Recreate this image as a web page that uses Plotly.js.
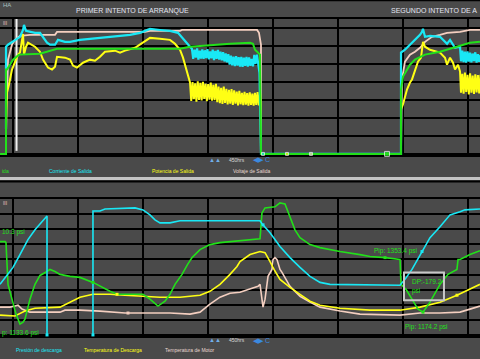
<!DOCTYPE html>
<html><head><meta charset="utf-8">
<script src="https://cdn.plot.ly/plotly-3.0.1.min.js"></script>
<style>html,body{margin:0;padding:0;background:#4a4a4a;}#chart{width:480px;height:359px;}</style>
</head><body><div id="chart"></div>
<script>
// ---------- TOP PANEL (x: hours, y: % of scale) ----------
const topVoltT = [-0.085,-0.069,-0.008,0.038,0.115,0.269,0.654,0.685,2.038,2.115,2.577,2.608,3.762,3.792,3.823,3.823,5.977,5.977,5.992,6.038,6.115,6.192,6.269,6.346,6.454,6.577,6.685,6.885,7.038,7.192];
const topVoltV = [30.3,52.4,60.7,63.4,65.6,66.2,66.2,67.8,67.8,68.4,68.4,68.9,68.9,67.3,60.7,0,0,0,41.4,51.3,55.2,56.8,59.0,62.3,65.1,66.2,67.3,67.8,68.9,68.9];

const topPowT = [-0.10,-0.10,-0.085,-0.054,-0.008,0.085,0.115,0.146,0.162,0.177,0.208,0.238,0.346,0.423,0.469,0.546,0.608,0.654,0.685,0.808,0.885,0.931,0.992,1.085,1.192,1.269,1.346,1.423,1.577,1.654,1.731,1.885,2.008,2.115,2.269,2.423,2.5,2.577,2.623,2.669,2.731,
 2.75,2.77,2.79,2.81,2.83,2.85,2.87,2.89,2.91,2.93,2.95,2.97,2.99,3.01,3.03,3.05,3.07,3.09,3.11,3.13,3.15,3.17,3.19,3.21,3.23,3.25,3.27,3.29,3.31,3.33,3.35,3.37,3.39,3.41,3.43,3.45,3.47,3.49,3.51,3.53,3.55,3.57,3.59,3.61,3.63,3.65,3.67,3.69,3.71,3.73,3.75,3.77,3.79,3.81,3.82,3.823,5.977,
 5.977,5.977,6.008,6.038,6.069,6.115,6.146,6.238,6.285,6.315,6.346,6.423,6.577,6.654,6.685,6.731,6.777,6.808,6.854,6.885,
 6.90,6.92,6.94,6.96,6.98,7.00,7.02,7.04,7.06,7.08,7.10,7.12,7.14,7.16,7.18,7.20];
const topPowV = [6.6,12.7,34.2,38.6,46.9,55.2,56.3,63.4,66.7,55.2,59.6,61.8,59.6,56.8,52.4,48.0,46.9,48.5,54.0,53.5,52.4,49.1,48.0,50.7,52.4,51.8,54.0,56.8,57.4,56.3,57.4,59.0,61.8,64.5,64.0,63.4,61.2,57.9,53.5,46.9,39.7,
 29.5,40.0,30.5,39.2,29.0,40.3,30.0,39.5,29.8,40.1,30.6,39.0,29.3,38.8,30.2,39.6,29.6,38.4,29.9,38.9,28.8,37.5,28.2,36.8,27.8,37.4,28.4,36.2,27.5,35.6,28.0,36.0,27.2,35.3,27.9,34.7,27.0,35.0,27.6,34.0,27.1,34.5,27.4,33.8,26.9,34.2,27.3,33.5,26.8,33.9,27.2,34.4,27.0,33.6,28.0,0,0,
 7.2,24.8,27.6,32.5,35.8,39.7,41.4,51.3,53.5,62.3,59.6,57.9,56.3,53.5,49.6,53.5,50.7,46.9,49.6,45.8,
 34.0,44.5,33.5,45.2,34.4,44.0,33.1,44.8,34.0,43.6,33.4,44.3,34.2,43.9,33.6,44.0];

const topCurT = [-0.10,-0.10,-0.069,0.038,0.115,0.162,0.177,0.208,0.269,0.346,0.423,0.469,0.531,0.577,0.654,0.7,0.808,0.885,1.038,1.192,1.346,1.577,1.808,1.962,2.115,2.269,2.423,2.546,2.608,2.685,2.731,
 2.76,2.78,2.80,2.82,2.84,2.86,2.88,2.90,2.92,2.94,2.96,2.98,3.00,3.02,3.04,3.06,3.08,3.10,3.12,3.14,3.16,3.18,3.20,3.22,3.24,3.26,3.28,3.30,3.32,3.34,3.36,3.38,3.40,3.42,3.44,3.46,3.48,3.50,3.52,3.54,3.56,3.58,3.60,3.62,3.64,3.66,3.68,3.70,3.72,3.74,3.76,3.77,3.80,3.823,5.977,
 5.977,5.977,6.038,6.115,6.192,6.269,6.3,6.315,6.346,6.423,6.577,6.654,6.685,6.731,6.808,6.885,
 6.90,6.92,6.94,6.96,6.98,7.00,7.02,7.04,7.06,7.08,7.10,7.12,7.14,7.16,7.18,7.20];
const topCurV = [13.8,59.6,60.7,63.4,65.1,68.9,71.7,68.4,67.8,67.3,67.3,65.1,61.8,60.7,60.7,63.4,62.3,62.3,63.4,64.0,64.5,65.1,66.2,67.3,69.5,68.9,68.4,67.3,64.5,61.2,59.6,
 58.5,52.9,57.9,53.5,58.7,52.4,57.4,53.0,58.1,52.8,57.6,53.3,58.3,52.6,57.0,53.1,58.0,52.2,57.3,52.9,57.8,52.5,56.9,52.0,56.6,51.4,55.9,50.9,55.4,49.7,54.6,49.2,54.1,48.8,54.4,49.1,53.8,48.6,53.9,48.4,53.5,48.9,54.0,48.5,53.6,49.0,52.8,48.7,55.0,50.0,55.2,52.0,45.0,0,0,
 0,56.3,57.9,60.7,63.4,66.2,67.8,69.5,65.1,65.6,65.1,62.3,61.2,63.4,59.0,59.6,
 51.5,57.4,51.0,56.8,50.7,57.0,51.3,56.3,50.9,55.8,51.6,56.5,50.8,55.5,51.2,55.0];

const topFreqT = [-0.192,-0.10,-0.10,-0.085,0.008,0.10,0.423,0.654,0.685,2.577,2.731,3.346,3.654,3.7,3.731,3.808,3.823,5.977,5.977,6.008,6.115,6.192,6.346,6.577,6.808,6.885,7.038,7.192];
const topFreqV = [0,0,46.9,46.9,52.4,55.2,55.7,57.9,58.5,58.5,59.6,61.2,61.8,61.2,57.9,55.2,0,0,35.8,43.0,49.6,52.4,55.2,56.8,59.0,60.1,61.8,62.3];

const topEventT = [0.062,0.062];
const topEventV = [1.7,75];

const topMarkT = [3.854,4.223,4.592,5.762];
const topMarkV = [0,0,0,0];

// ---------- BOTTOM PANEL ----------
const botDisT = [-0.192,-0.115,-0.038,0.008,0.115,0.238,0.346,0.423,0.485,0.531,0.531,null,1.238,1.238,1.346,1.423,1.885,2.008,2.115,2.192,2.269,2.423,2.577,3.5,3.808,3.838,3.854,3.962,4.115,4.269,4.423,4.577,4.731,4.885,5.962,6.038,6.146,6.3,6.423,6.577,6.731,6.885,6.962,7.192];
const botDisV = [33.5,38.1,42.0,44.7,53.2,63.1,69.6,73.6,76.9,78.8,0,null,0,82.1,82.1,83.4,84.1,82.8,79.5,76.2,74.2,74.2,75.6,75.6,75.6,73.6,72.9,67.7,58.5,51.2,44.7,38.8,34.8,33.5,32.9,36.8,43.4,55.2,64.4,71.6,79.5,81.5,82.8,83.4];

const botPipT = [-0.192,-0.115,-0.10,-0.069,-0.008,0.054,0.115,0.162,0.192,0.269,0.346,0.423,0.531,0.577,0.654,0.731,0.885,1.038,1.238,1.346,1.5,1.608,2.008,2.115,2.238,2.346,2.423,2.5,2.608,2.692,2.762,2.885,3.038,3.192,3.5,3.808,3.838,3.885,4.038,4.115,4.192,4.269,4.346,4.423,4.577,4.731,5.038,5.346,5.5,5.731,5.962,5.977,6.054,6.146,6.238,6.315,6.423,6.577,6.7,6.838,6.854,6.885,7.038,7.192];
const botPipV = [61.8,61.8,61.1,33.5,23.7,13.8,7.2,8.5,10.5,23.7,33.5,39.4,42.0,43.4,42.0,40.1,38.8,38.1,34.8,32.2,28.9,26.9,26.9,23.7,19.1,22.3,26.9,33.5,40.1,46.6,51.2,56.5,59.8,61.1,62.4,63.7,80.8,84.1,84.8,87.4,86.7,78.2,69.6,64.4,59.8,57.8,55.2,53.2,51.9,51.2,49.9,33.5,30.2,23.7,17.1,15.1,21.7,33.5,40.1,43.4,49.9,49.9,53.2,55.8];

const botTdT = [-0.192,0.038,0.192,0.346,0.731,0.885,1.038,1.238,1.5,1.731,2.008,2.269,2.577,2.885,3.038,3.192,3.346,3.454,3.5,3.654,3.808,3.885,3.962,4.023,4.115,4.269,4.423,4.577,4.731,5.038,5.5,5.962,6.269,6.577,6.838,7.038,7.192];
const botTdV = [13.1,12.5,15.8,17.7,18.4,21.7,25.0,26.9,26.9,26.3,25.6,25.0,25.0,26.3,28.9,33.5,40.1,45.3,48.6,53.2,55.2,54.5,48.6,43.4,36.8,31.5,26.9,22.3,19.7,17.7,16.4,16.4,18.4,21.7,26.3,30.2,33.5];

const botTmT = [-0.192,-0.038,0.038,0.085,0.146,0.192,0.269,0.531,0.731,0.808,1.038,1.346,1.5,1.731,2.115,2.423,2.731,2.885,2.962,3.038,3.192,3.346,3.5,3.654,3.777,3.808,3.838,3.854,3.885,3.931,3.992,4.008,4.038,4.069,4.115,4.146,4.269,4.423,4.577,4.731,5.038,5.346,5.962,6.269,6.577,6.885,7.038,7.192];
const botTmV = [18.4,18.4,19.1,19.7,17.1,16.4,15.1,15.1,15.1,16.4,16.4,15.8,15.1,14.5,14.5,14.5,13.8,15.1,17.7,20.4,25.0,27.6,28.3,30.2,32.2,33.5,23.7,18.4,23.7,38.8,43.4,49.9,51.2,49.9,43.4,41.4,32.2,25.6,21.7,18.4,15.8,13.8,13.1,14.5,14.5,15.1,17.1,19.1];

const botMarkT = [0.531,1.238,3.854,6.3,1.238,5.731,6.315,1.608,6.838,1.777];
const botMarkV = [0,0,72.9,55.2,34.8,51.2,15.1,26.9,26.3,14.5];

// ---------- TEXTS (as visible in the window, clipped at its edges) ----------
const panelTitles = ["PRIMER INTENTO DE ARRANQUE","SEGUNDO INTENTO DE A"];
const topNames = ["ida","Corriente de Salida","Potencia de Salida","Voltaje de Salida"];
const botNames = ["Presión de descarga","Temperatura de Descarga","Temperatura de Motor"];
const readouts = ["10.3 psi","p: 1133.6 psi","Pip: 1353.4 psi","DP:-179.2","psi","Pip: 1174.2 psi"];
const spanLabel = "450hrs";

const C = {cyan:'#19e8f5', yel:'#ffff14', grn:'#22e01a', pch:'#f4cfc0', wht:'#f2f2f2'};

function ln(x,y,color,w,xa,ya){return {x:x,y:y,mode:'lines',line:{color:color,width:w},connectgaps:false,xaxis:xa,yaxis:ya,hoverinfo:'skip',showlegend:false};}

const traces = [
  ln(topEventT,topEventV,C.wht,2,'x','y'),
  ln(topVoltT,topVoltV,C.pch,1.8,'x','y'),
  ln(topPowT,topPowV,C.yel,2,'x','y'),
  ln(topCurT,topCurV,C.cyan,2.2,'x','y'),
  ln(topFreqT,topFreqV,C.grn,2,'x','y'),
  {x:topMarkT,y:topMarkV,mode:'markers',xaxis:'x',yaxis:'y',cliponaxis:false,showlegend:false,
   marker:{symbol:'square',size:[3,3,3,5],color:[C.cyan,C.yel,C.pch,C.grn]}},
  ln(botTmT,botTmV,C.pch,1.6,'x2','y2'),
  ln(botTdT,botTdV,C.yel,1.6,'x2','y2'),
  ln(botPipT,botPipV,C.grn,1.6,'x2','y2'),
  ln(botDisT,botDisV,C.cyan,1.6,'x2','y2'),
  {x:botMarkT,y:botMarkV,mode:'markers',xaxis:'x2',yaxis:'y2',cliponaxis:false,showlegend:false,
   marker:{symbol:'square',size:3,color:[C.cyan,C.cyan,C.cyan,C.cyan,C.grn,C.grn,C.grn,C.yel,C.yel,C.pch]}}
];

const xcommon = {range:[-0.1923,7.1923],dtick:1,tick0:0,showgrid:true,gridcolor:'#000',gridwidth:2,
  showticklabels:false,ticks:'',zeroline:false,showline:true,linecolor:'#000',linewidth:2,mirror:true,layer:'below traces',fixedrange:true};
const ycommon = {showgrid:true,gridcolor:'#000',gridwidth:2,showticklabels:false,ticks:'',zeroline:false,showline:false,fixedrange:true};

const F = 'Liberation Sans, Arial, sans-serif';
function ann(text,x,y,color,size,xanchor){return {text:text,x:x,y:y,xref:'paper',yref:'paper',showarrow:false,xanchor:xanchor||'center',yanchor:'middle',font:{family:F,size:size,color:color}};}

const annotations = [
  ann(panelTitles[0],132/480,1-11/359,'#e4e6f2',7,'center'),
  ann(panelTitles[1],389/480,1-11/359,'#e4e6f2',7,'left'),
  ann('HA',1/480,1-5/359,'#a8c0c0',6,'left'),
  ann('lll',1/480,1-23/359,'#e0b8b0',6,'left'),
  ann('lll',1/480,1-203/359,'#e0b8b0',6,'left'),
  ann(topNames[0],0,1-171/359,C.grn,5,'left'),
  ann(topNames[1],70/480,1-171/359,C.cyan,5,'center'),
  ann(topNames[2],173/480,1-171/359,C.yel,5,'center'),
  ann(topNames[3],251/480,1-171/359,'#e8d8d0',5,'center'),
  ann('▲▲',215/480,1-160/359,'#70aee8',6,'center'),
  ann(spanLabel,237/480,1-160/359,'#d8d8d8',5,'center'),
  ann('◀▶ C',261/480,1-160/359,'#3a8ae0',7,'center'),
  ann(botNames[0],39/480,1-350/359,C.cyan,5,'center'),
  ann(botNames[1],113/480,1-350/359,C.yel,5,'center'),
  ann(botNames[2],190/480,1-350/359,'#e8d8d0',5,'center'),
  ann('▲▲',215/480,1-340/359,'#70aee8',6,'center'),
  ann(spanLabel,237/480,1-340/359,'#d8d8d8',5,'center'),
  ann('◀▶ C',261/480,1-340/359,'#3a8ae0',7,'center'),
  ann(readouts[0],0,1-232/359,C.grn,6.5,'left'),
  ann(readouts[1],0,1-333/359,C.grn,6.5,'left'),
  ann(readouts[2],395/480,1-251/359,C.grn,6.5,'center'),
  ann(readouts[3],410/480,1-281/359,C.grn,6.5,'left'),
  ann(readouts[4],410/480,1-291/359,C.grn,6.5,'left'),
  ann(readouts[5],403/480,1-327/359,C.grn,6.5,'left')
];

const shapes = [
  {type:'line',xref:'paper',yref:'paper',x0:0,x1:1,y0:1-0.5/359,y1:1-0.5/359,line:{color:'#000',width:1.5}},
  {type:'rect',xref:'paper',yref:'paper',x0:0,x1:1,y0:1-180/359,y1:1-177/359,fillcolor:'#c4c4c4',line:{width:0}},
  {type:'line',xref:'paper',yref:'paper',x0:0,x1:1,y0:1-181.5/359,y1:1-181.5/359,line:{color:'#000',width:2}},
  {type:'rect',xref:'x2',yref:'y2',x0:6.023,x1:6.638,y0:23.0,y1:41.4,line:{color:'#c8c8c8',width:2},fillcolor:'rgba(0,0,0,0)'}
];

const layout = {
  width:480,height:359,margin:{l:0,r:0,t:0,b:0,pad:0},
  paper_bgcolor:'#4a4a4a',plot_bgcolor:'#4a4a4a',showlegend:false,
  xaxis:Object.assign({},xcommon,{anchor:'y'}),
  yaxis:Object.assign({},ycommon,{domain:[1-155/359,1-19/359],range:[-0.6,75],dtick:10,tick0:0,anchor:'x'}),
  xaxis2:Object.assign({},xcommon,{anchor:'y2'}),
  yaxis2:Object.assign({},ycommon,{domain:[1-336/359,1-199/359],range:[-0.7,90],dtick:10,tick0:0,anchor:'x2'}),
  annotations:annotations,shapes:shapes
};

Plotly.newPlot('chart',traces,layout,{staticPlot:true,displayModeBar:false});
</script></body></html>
